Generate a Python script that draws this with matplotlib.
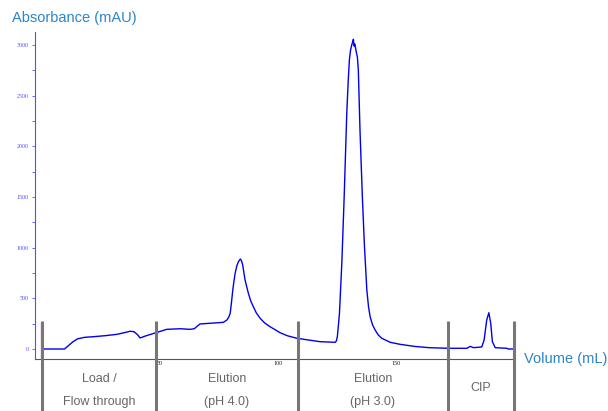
import matplotlib.pyplot as plt
import numpy as np

# chromatogram trace (volume in mL, absorbance in mAU)
volume = [0, 9.5, 11, 13, 15, 18, 21.6, 27, 31.8, 35, 37.3, 39, 40.5, 41.5, 44,
          48.3, 52.8, 58.5, 62.7, 64.5, 66, 66.9, 71.2, 76.8, 78.3, 79.0, 79.7,
          80.2, 80.8, 81.3, 81.8, 82.5, 83.2, 84.0, 84.5, 85.0, 86.0, 87.4, 88.4,
          89.5, 90.8, 92.4, 94.4, 96.6, 100.8, 104, 107.9,
          112.8, 117.8, 124.2, 124.7, 125.1, 125.5, 126.0, 127.0, 128.0, 129.1,
          129.7, 130.2, 130.7, 131.2, 131.6, 131.9, 132.2, 132.5, 133.1, 133.6,
          134.0, 134.7, 135.7, 136.6, 137.6, 138.3, 139.0, 140.0, 141.1, 142.4,
          143.9, 147.5, 151.7, 158, 164, 172, 180, 181.4, 182.8, 186.3,
          187.3, 188.4, 189.3, 190.1, 190.8, 192, 196.9, 197.5, 200.4]
absorbance = [0, 0, 30, 70, 100, 115, 121, 132, 145, 162, 175, 170, 140, 109, 130,
              161, 194, 200, 194, 200, 230, 247, 254, 263, 286, 310, 352,
              450, 582, 670, 747, 820, 862, 888, 870, 829, 681, 550, 475,
              418, 355, 303, 255, 220, 161, 130, 106,
              89, 72, 66, 80, 121, 220, 352, 846, 1503, 2327,
              2640, 2853, 2950, 3001, 3030, 3057, 2990, 3010, 2935, 2880,
              2754, 2162, 1503, 1010, 582, 420, 319, 240, 188, 140,
              106, 66, 46, 25, 13, 7, 7, 26, 13, 20,
              89, 286, 358, 254, 72, 13, 7, 0, 0]

# fraction boundaries and labels
boundaries = [0, 48.3, 108.3, 172, 200]
fraction_labels = [["Load /", "Flow through"], ["Elution", "(pH 4.0)"],
                   ["Elution", "(pH 3.0)"], ["CIP"]]

yticks = [0, 500, 1000, 1500, 2000, 2500, 3000]
xticks = [0, 50, 100, 150]

title_blue = "#2a85c9"
label_gray = "#666666"

fig = plt.figure(figsize=(6.08, 4.11), dpi=100)
ax = fig.add_axes([0.0576, 0.1277, 0.7895, 0.7945])

ax.plot(volume, absorbance, color="#0000ee", lw=1.0, zorder=3)

ax.set_xlim(-3, 200.4)
ax.set_ylim(-94, 3129)

# injection mark
ax.plot([0, 0], [-94, 257], color="#e020d0", lw=1.6, zorder=4, solid_capstyle="butt")

# fraction dividers reach below the axis
for b in boundaries:
    ax.plot([b, b], [275, -640], color="#777777", lw=2.2, clip_on=False,
            zorder=5, solid_capstyle="butt")

for i, lab in enumerate(fraction_labels):
    xc = (boundaries[i] + boundaries[i + 1]) / 2
    if len(lab) == 2:
        ax.text(xc, -296, lab[0], ha="center", va="center", fontsize=9,
                color=label_gray, family="Liberation Sans")
        ax.text(xc, -523, lab[1], ha="center", va="center", fontsize=9,
                color=label_gray, family="Liberation Sans")
    else:
        ax.text(xc, -385, lab[0], ha="center", va="center", fontsize=9,
                color=label_gray, family="Liberation Sans")

for s in ["top", "right"]:
    ax.spines[s].set_visible(False)
ax.spines["left"].set_color("#5050ff")
ax.spines["left"].set_linewidth(0.8)
ax.spines["bottom"].set_color("#555555")
ax.spines["bottom"].set_linewidth(0.8)

ax.set_yticks(yticks)
ax.set_yticklabels([str(t) for t in yticks], fontsize=4.3, color="#5050ff",
                   family="Liberation Serif")
ax.set_yticks(np.arange(250, 3001, 500), minor=True)
ax.tick_params(axis="y", which="both", colors="#5050ff", length=2.5, width=0.6,
               pad=2, labelcolor="#5050ff")
ax.set_xticks(xticks)
ax.set_xticklabels([str(t) for t in xticks], fontsize=4.3, color="#222222",
                   family="Liberation Serif")
ax.tick_params(axis="x", length=0, pad=2)

fig.text(12 / 608, 1 - 18 / 411, "Absorbance (mAU)", color=title_blue, fontsize=10.5,
         ha="left", va="center", family="Liberation Sans")
fig.text(524 / 608, 1 - 359 / 411, "Volume (mL)", color=title_blue, fontsize=10.5,
         ha="left", va="center", family="Liberation Sans")

fig.savefig("out.png", dpi=100)
